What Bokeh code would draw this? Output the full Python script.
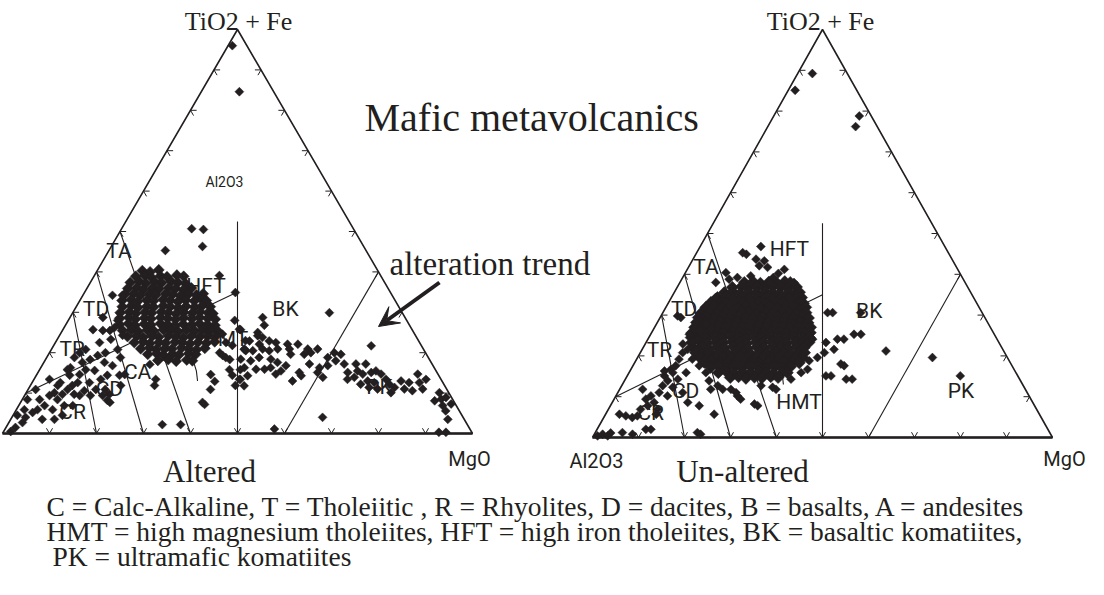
import math
from bokeh.plotting import figure
from bokeh.models import Range1d, Arrow, VeeHead
from bokeh.core.properties import value
from bokeh.embed import file_html
from bokeh.resources import INLINE

# ---------------- data: Jensen cation proportions (%) ----------------
# each sample is (TiO2+Fe, MgO); Al2O3 is the remainder to 100

ALT_SCATTER = [(96.0, 0.9), (84.6, 8.1), (50.7, 14.9), (50.5, 17.5), (46.3, 19.4), (45.3, 12.0),
               (39.1, 26.6), (34.9, 32.1), (28.0, 35.4), (25.7, 37.8), (23.0, 40.2), (20.8, 41.1),
               (7.2, 39.4), (2.2, 32.9), (2.2, 36.8), (14.6, 37.0), (10.9, 38.8), (12.9, 38.7),
               (15.8, 40.4), (14.4, 41.7), (18.3, 39.2), (11.9, 43.6), (13.4, 43.9), (20.0, 36.2),
               (19.3, 37.2), (18.8, 38.1), (7.7, 38.7), (11.9, 26.4), (13.4, 25.9), (17.1, 22.8),
               (8.2, 18.2), (9.7, 17.9), (24.6, 34.5), (22.5, 36.3), (21.8, 38.0), (20.5, 41.5),
               (15.8, 42.7), (13.4, 43.7)]

ALT_CA_TREND = [(0.5, 1.5), (4.5, 0.9), (2.7, 2.9), (8.4, 1.1), (4.0, 2.9), (5.2, 3.8), (5.9, 4.5),
                (8.4, 3.7), (3.5, 6.7), (6.9, 5.5), (9.4, 5.3), (13.4, 3.3), (5.9, 7.7), (10.1, 6.0),
                (11.9, 5.8), (8.4, 7.5), (12.6, 6.0), (9.7, 7.9), (6.9, 9.7), (10.9, 8.4), (14.4, 7.1),
                (16.3, 6.3), (11.9, 8.9), (9.7, 10.4), (12.6, 9.7), (14.6, 9.1), (17.6, 8.2),
                (10.6, 12.1), (15.8, 9.8), (12.6, 12.2), (18.3, 9.5), (15.6, 11.8), (10.9, 14.4),
                (19.3, 10.6), (22.5, 9.4), (13.4, 14.2), (17.6, 12.9), (20.0, 11.9), (14.4, 15.1),
                (7.7, 19.0), (23.3, 11.4), (16.8, 15.0), (26.2, 10.7), (20.8, 14.1), (14.4, 17.7),
                (11.9, 19.2), (24.3, 13.4), (34.2, 8.4), (34.2, 6.3), (28.0, 10.5), (25.7, 6.4),
                (25.5, 8.6), (25.5, 10.1), (20.8, 7.3), (20.0, 6.4), (18.8, 5.9), (15.8, 5.9),
                (10.9, 1.6), (5.9, 1.7), (1.5, 2.0), (3.5, 9.3), (4.5, 10.5), (6.9, 11.5), (9.4, 11.7),
                (9.4, 14.0), (9.4, 16.6), (10.9, 16.4), (18.8, 15.7), (14.6, 18.7), (28.7, 7.0)]

ALT_KOMATIITE_TREND = [(28.7, 41.0), (26.8, 42.3), (29.9, 54.6), (25.8, 37.5), (25.0, 41.8), (24.2, 42.2),
                       (23.8, 43.4), (22.9, 41.1), (22.9, 45.3), (22.5, 46.9), (22.1, 43.6), (22.1, 49.6),
                       (22.1, 51.8), (20.9, 41.0), (20.5, 43.0), (20.9, 44.9), (20.5, 46.5), (20.9, 48.1),
                       (20.9, 50.6), (20.9, 54.5), (20.9, 56.6), (20.0, 55.6), (18.4, 41.5), (18.0, 43.8),
                       (18.8, 45.2), (18.4, 47.9), (17.6, 49.7), (19.6, 51.5), (19.6, 54.4), (20.0, 60.6),
                       (19.6, 62.2), (18.8, 59.8), (18.0, 61.9), (16.3, 43.3), (15.9, 46.0), (15.9, 47.8),
                       (16.3, 48.9), (15.5, 51.5), (16.8, 51.9), (15.1, 55.6), (17.2, 56.7), (16.3, 59.3),
                       (16.8, 60.8), (14.3, 45.0), (14.7, 50.8), (13.0, 55.2), (14.3, 56.4), (15.1, 59.5),
                       (13.9, 61.2), (11.8, 45.5), (17.2, 64.1), (17.2, 66.6), (17.2, 68.7), (15.1, 65.9),
                       (15.5, 67.8), (13.4, 66.7), (13.9, 67.9), (14.7, 69.3), (13.0, 71.2), (15.1, 70.9),
                       (15.5, 71.7), (14.7, 73.2), (12.2, 70.1), (11.4, 72.3), (12.6, 72.8), (11.0, 74.3),
                       (13.4, 74.9), (12.2, 76.2), (10.1, 77.6), (11.4, 77.7), (13.0, 78.3), (11.0, 80.0),
                       (12.6, 80.2), (10.6, 81.9), (14.7, 81.0), (12.6, 82.4), (11.0, 83.9), (13.4, 83.4),
                       (10.1, 87.9), (8.1, 87.9), (8.5, 89.1), (8.9, 89.9), (6.9, 90.2), (7.3, 91.8),
                       (5.6, 91.5), (3.5, 93.0), (21.7, 67.6), (4.0, 66.1), (1.1, 57.3), (0.3, 92.7),
                       (0.3, 94.2)]

ALT_CORE = [(40.3, 9.6), (40.0, 11.4), (40.5, 13.0),
            (38.9, 8.9), (39.1, 10.7), (38.7, 12.3), (39.0, 14.1), (38.8, 15.6), (39.2, 17.5), (38.9, 19.1),
            (37.4, 8.5), (37.6, 10.3), (37.2, 11.9), (37.5, 13.7), (37.3, 15.2), (37.6, 17.1), (37.4, 18.6),
            (37.1, 20.4),
            (35.9, 8.7), (36.1, 10.5), (35.7, 12.1), (36.0, 13.9), (35.8, 15.4), (36.1, 17.3), (35.9, 18.9),
            (35.6, 20.7), (36.0, 22.2),
            (34.4, 8.8), (34.6, 10.6), (34.2, 12.2), (34.5, 14.0), (34.3, 15.5), (34.6, 17.4), (34.4, 19.0),
            (34.1, 20.8), (34.5, 22.3), (34.3, 24.1), (34.6, 25.4),
            (32.9, 9.0), (33.1, 10.8), (32.7, 12.4), (33.0, 14.2), (32.8, 15.7), (33.1, 17.6), (32.9, 19.2),
            (32.6, 21.0), (33.0, 22.5), (32.8, 24.4), (33.1, 25.9), (32.9, 26.9),
            (31.4, 9.8), (31.6, 11.6), (31.2, 13.2), (31.5, 15.0), (31.3, 16.5), (31.6, 18.4), (31.4, 20.0),
            (31.1, 21.8), (31.5, 23.3), (31.3, 25.2), (31.6, 26.7), (31.4, 28.5),
            (29.9, 10.1), (30.1, 11.9), (29.7, 13.5), (30.0, 15.3), (29.8, 16.8), (30.1, 18.7), (29.9, 20.3),
            (29.6, 22.1), (30.0, 23.6), (29.8, 25.5), (30.1, 27.0), (29.9, 28.8), (29.7, 29.9),
            (28.5, 10.7), (28.7, 12.5), (28.3, 14.1), (28.6, 15.9), (28.4, 17.4), (28.7, 19.3), (28.5, 20.9),
            (28.2, 22.7), (28.6, 24.2), (28.4, 26.1), (28.7, 27.6), (28.5, 29.4), (28.3, 31.1),
            (27.0, 11.4), (27.2, 13.2), (26.8, 14.8), (27.1, 16.6), (26.9, 18.1), (27.2, 20.0), (27.0, 21.6),
            (26.7, 23.4), (27.1, 24.9), (26.9, 26.8), (27.2, 28.3), (27.0, 30.1), (26.8, 31.8),
            (25.5, 12.8), (25.7, 14.6), (25.3, 16.2), (25.6, 18.0), (25.4, 19.5), (25.7, 21.4), (25.5, 23.0),
            (25.2, 24.8), (25.6, 26.3), (25.4, 28.2), (25.7, 29.7), (25.5, 31.5), (25.3, 33.2),
            (24.0, 14.6), (24.2, 16.4), (23.8, 18.0), (24.1, 19.8), (23.9, 21.3), (24.2, 23.2), (24.0, 24.8),
            (23.7, 26.6), (24.1, 28.1), (23.9, 30.0), (24.2, 31.5), (24.0, 33.3),
            (22.5, 16.8), (22.7, 18.6), (22.3, 20.2), (22.6, 22.0), (22.4, 23.5), (22.7, 25.4), (22.5, 27.0),
            (22.2, 28.8), (22.6, 30.3), (22.4, 32.2), (22.7, 33.8),
            (21.0, 18.9), (21.2, 20.7), (20.8, 22.3), (21.1, 24.1), (20.9, 25.6), (21.2, 27.5), (21.0, 29.1),
            (20.7, 30.9), (21.1, 32.5),
            (19.6, 21.1), (19.8, 22.9), (19.4, 24.5), (19.7, 26.3), (19.5, 27.8), (19.8, 29.7), (19.6, 31.3),
            (18.1, 24.0), (18.3, 26.1), (17.9, 28.0), (18.2, 30.1), (18.0, 31.4)]

UNALT_SCATTER = [(89.2, 3.2), (85.1, 1.5), (78.8, 18.6), (76.2, 19.1),
                 (46.8, 13.2), (44.9, 11.0), (43.7, 13.7), (43.3, 15.7), (42.1, 15.2), (41.7, 17.2),
                 (38.0, 7.8), (38.8, 10.3), (39.2, 11.9), (39.6, 14.6), (41.2, 21.1), (38.0, 24.8),
                 (33.5, 28.6), (33.9, 10.3), (28.2, 10.2), (30.6, 36.9), (30.6, 43.0), (25.3, 45.7),
                 (24.1, 42.6), (21.6, 41.7), (23.3, 39.1), (20.8, 40.0), (19.6, 39.1), (24.1, 35.8),
                 (18.8, 37.7), (18.0, 45.0), (17.6, 45.9), (15.1, 44.3), (14.3, 49.3), (16.7, 38.4),
                 (15.9, 37.4), (14.3, 36.0), (12.3, 33.0), (11.8, 34.0), (12.7, 30.3), (10.2, 26.4),
                 (9.4, 27.5), (7.8, 32.0), (11.8, 22.4), (5.7, 23.6), (11.8, 24.2),
                 (30.6, 35.8), (24.1, 41.2), (25.3, 44.2), (21.2, 53.2), (14.3, 48.0), (15.1, 43.2),
                 (19.6, 64.1), (15.1, 72.4), (1.2, 22.2), (8.2, 31.1), (29.8, 3.6), (34.3, 9.6),
                 (40.4, 8.8), (45.3, 10.0), (40.2, 20.3), (39.2, 19.7), (38.0, 19.5), (11.0, 25.7),
                 (12.7, 20.9), (11.8, 19.8), (7.8, 19.3)]

UNALT_CA_TREND = [(0.4, 0.9), (0.8, 1.8), (0.4, 3.1), (1.1, 3.4), (1.2, 5.9), (0.8, 8.3), (2.0, 10.6),
                  (2.0, 11.7), (5.7, 3.0), (5.3, 4.6), (4.9, 6.2), (5.3, 7.1), (6.9, 7.0), (11.8, 5.0),
                  (9.4, 6.9), (7.8, 8.1), (10.2, 7.6), (8.6, 9.1), (6.9, 10.7), (5.7, 11.0), (11.0, 9.0),
                  (12.7, 8.9), (15.1, 8.1), (13.9, 9.4), (15.9, 9.5), (17.6, 9.3), (19.2, 9.2), (20.8, 9.2),
                  (22.9, 8.2), (21.6, 9.9), (23.3, 10.1), (25.3, 8.4), (24.1, 10.8), (22.5, 12.7),
                  (20.8, 14.6), (19.2, 16.1), (19.2, 12.1), (17.6, 14.4), (15.9, 12.4), (14.3, 11.4),
                  (12.3, 11.3), (10.2, 11.2), (8.6, 16.4), (0.8, 23.1), (29.4, 4.5), (27.8, 10.7),
                  (26.5, 12.5), (15.9, 16.7), (13.9, 18.4), (16.7, 8.7), (16.3, 7.5), (11.0, 14.1)]

UNALT_CORE = [(38.0, 14.0), (38.2, 15.8), (37.8, 17.6), (38.1, 19.3), (37.9, 21.1), (38.2, 22.7), (38.0, 24.0),
              (36.8, 12.0), (37.0, 13.9), (36.6, 15.5), (36.9, 17.3), (36.7, 19.1), (37.0, 20.7), (36.8, 22.5),
              (36.6, 24.2), (36.9, 25.9),
              (35.5, 10.9), (35.7, 12.6), (35.3, 14.4), (35.6, 16.1), (35.4, 17.9), (35.7, 19.6), (35.5, 21.4),
              (35.2, 23.0), (35.6, 24.8), (35.4, 26.5), (35.6, 27.2),
              (34.3, 10.0), (34.5, 11.8), (34.1, 13.5), (34.4, 15.3), (34.2, 17.0), (34.5, 18.7), (34.3, 20.5),
              (34.0, 22.2), (34.4, 24.0), (34.2, 25.7), (34.5, 27.4), (34.3, 28.3),
              (33.1, 9.2), (33.3, 10.9), (32.9, 12.7), (33.2, 14.4), (33.0, 16.2), (33.3, 17.9), (33.1, 19.6),
              (32.8, 21.4), (33.2, 23.1), (33.0, 24.9), (33.3, 26.6), (33.1, 28.3), (32.9, 29.4),
              (31.9, 8.7), (32.1, 10.4), (31.7, 12.2), (32.0, 13.9), (31.8, 15.6), (32.1, 17.4), (31.9, 19.1),
              (31.6, 20.9), (32.0, 22.6), (31.8, 24.3), (32.1, 26.1), (31.9, 27.8), (31.7, 29.5), (31.9, 30.4),
              (30.6, 8.4), (30.8, 10.1), (30.4, 11.9), (30.7, 13.6), (30.5, 15.3), (30.8, 17.1), (30.6, 18.8),
              (30.3, 20.5), (30.7, 22.3), (30.5, 24.0), (30.8, 25.8), (30.6, 27.5), (30.4, 29.2), (30.6, 31.1),
              (29.4, 8.3), (29.6, 10.0), (29.2, 11.8), (29.5, 13.5), (29.3, 15.2), (29.6, 17.0), (29.4, 18.7),
              (29.1, 20.4), (29.5, 22.2), (29.3, 23.9), (29.6, 25.6), (29.4, 27.4), (29.2, 29.1), (29.5, 30.8),
              (29.3, 32.3),
              (28.2, 8.5), (28.4, 10.2), (28.0, 12.0), (28.3, 13.7), (28.1, 15.4), (28.4, 17.2), (28.2, 18.9),
              (27.9, 20.6), (28.3, 22.4), (28.1, 24.1), (28.4, 25.8), (28.2, 27.6), (28.0, 29.3), (28.3, 31.0),
              (28.1, 32.8),
              (27.0, 8.7), (27.2, 10.4), (26.8, 12.2), (27.1, 13.9), (26.9, 15.6), (27.2, 17.4), (27.0, 19.1),
              (26.7, 20.8), (27.1, 22.6), (26.9, 24.3), (27.2, 26.0), (27.0, 27.8), (26.8, 29.5), (27.1, 31.2),
              (26.9, 33.0), (27.0, 33.9),
              (25.7, 8.8), (25.9, 10.5), (25.5, 12.3), (25.8, 14.0), (25.6, 15.7), (25.9, 17.5), (25.7, 19.2),
              (25.4, 20.9), (25.8, 22.7), (25.6, 24.4), (25.9, 26.1), (25.7, 27.9), (25.5, 29.6), (25.8, 31.3),
              (25.6, 33.1), (25.7, 34.5),
              (24.5, 9.2), (24.7, 10.9), (24.3, 12.7), (24.6, 14.4), (24.4, 16.1), (24.7, 17.9), (24.5, 19.6),
              (24.2, 21.3), (24.6, 23.1), (24.4, 24.8), (24.7, 26.5), (24.5, 28.3), (24.3, 30.0), (24.6, 31.7),
              (24.4, 33.5), (24.5, 34.9),
              (23.3, 9.9), (23.5, 11.6), (23.1, 13.4), (23.4, 15.1), (23.2, 16.8), (23.5, 18.6), (23.3, 20.3),
              (23.0, 22.0), (23.4, 23.8), (23.2, 25.5), (23.5, 27.2), (23.3, 29.0), (23.1, 30.7), (23.4, 32.4),
              (23.2, 34.2), (23.3, 35.4),
              (22.1, 10.7), (22.3, 12.4), (21.9, 14.2), (22.2, 15.9), (22.0, 17.6), (22.3, 19.4), (22.1, 21.1),
              (21.8, 22.8), (22.2, 24.6), (22.0, 26.3), (22.3, 28.0), (22.1, 29.8), (21.9, 31.5), (22.2, 33.2),
              (22.0, 35.0),
              (20.8, 12.0), (21.0, 13.7), (20.6, 15.5), (20.9, 17.2), (20.7, 18.9), (21.0, 20.7), (20.8, 22.4),
              (20.5, 24.1), (20.9, 25.9), (20.7, 27.6), (21.0, 29.3), (20.8, 31.1), (20.6, 32.8), (20.9, 34.5),
              (20.8, 35.7),
              (19.6, 13.5), (19.8, 15.2), (19.4, 17.0), (19.7, 18.7), (19.5, 20.4), (19.8, 22.2), (19.6, 23.9),
              (19.3, 25.6), (19.7, 27.4), (19.5, 29.1), (19.8, 30.8), (19.6, 32.6), (19.4, 34.3), (19.6, 35.9),
              (18.4, 15.1), (18.6, 16.8), (18.2, 18.6), (18.5, 20.3), (18.3, 22.0), (18.6, 23.8), (18.4, 25.5),
              (18.1, 27.2), (18.5, 29.0), (18.3, 30.7), (18.6, 32.4), (18.4, 34.2), (18.3, 35.8),
              (17.2, 17.1), (17.4, 18.8), (17.0, 20.6), (17.3, 22.3), (17.1, 24.0), (17.4, 25.8), (17.2, 27.5),
              (16.9, 29.2), (17.3, 31.0), (17.1, 32.7), (17.4, 34.4),
              (15.9, 19.4), (16.1, 21.1), (15.7, 22.9), (16.0, 24.6), (15.8, 26.3), (16.1, 28.1), (15.9, 29.8),
              (15.6, 31.5), (16.0, 33.3), (15.9, 34.4),
              (14.7, 22.6), (14.9, 24.3), (14.5, 26.1), (14.8, 27.8), (14.6, 29.5), (14.9, 31.3), (14.7, 33.0)]

TICK_VALUES = [10, 20, 30, 40, 50, 60, 70, 80, 90]

# Jensen (1976) field boundaries, as (TiO2+Fe, MgO) vertices
BOUNDARIES = [
    [(50, 0), (0, 40)],            # TA / HFT - CA / CB
    [(40, 0), (0, 30)],            # TD / TA
    [(30, 0), (0, 20)],            # TR / TD
    [(10, 0), (35, 32.5)],         # tholeiitic / calc-alkaline
    [(0, 50), (52.5, 23.75)],      # HFT-HMT / BK
    [(0, 60), (40, 60)],           # BK / PK
    [(21.0, 29.5), (18.5, 31.2), (15.5, 33.5), (13.0, 35.0)],  # CB / HMT
]

ALT_FIELD_LABELS = [("TA", 45.2, 2.2), ("TD", 30.8, 4.5), ("TR", 20.9, 4.4), ("HFT", 36.6, 25.0),
                    ("BK", 30.8, 44.8), ("HMT", 23.3, 35.8), ("CA", 15.1, 21.2), ("CD", 10.9, 17.3),
                    ("CR", 5.2, 12.3), ("PK", 11.4, 74.5)]
UNALT_FIELD_LABELS = [("TA", 41.7, 3.8), ("TD", 31.4, 4.2), ("TR", 21.5, 3.8), ("HFT", 46.2, 19.7),
                      ("BK", 31.1, 44.6), ("HMT", 8.6, 40.6), ("CD", 11.5, 14.5), ("CR", 6.1, 9.6),
                      ("PK", 11.4, 74.4)]

# ---------------- layout ----------------
LEFT = dict(x0=10, y0=441, w=470, h=404)
RIGHT = dict(x0=600, y0=445, w=460, h=408)
INK = "#231f20"


def tern(fe, mg, tri):
    x = tri["x0"] + tri["w"] * (mg + fe / 2.0) / 100.0
    y = tri["y0"] - tri["h"] * fe / 100.0
    return x, y


def project(samples, tri):
    xs, ys = [], []
    for fe, mg in samples:
        x, y = tern(fe, mg, tri)
        xs.append(x)
        ys.append(y)
    return xs, ys


p = figure(width=1088, height=579, x_range=Range1d(8, 1096), y_range=Range1d(587, 8),
           output_backend="svg", toolbar_location=None, min_border=0,
           x_axis_location=None, y_axis_location=None)
p.grid.visible = False
p.outline_line_color = None
p.background_fill_color = "white"

SANS = value("Roboto")
SERIF = value("Liberation Serif")


def draw_triangle(tri, labels, sparse_groups, dense_group, dense_size):
    # field boundaries
    bx, by = [], []
    for line in BOUNDARIES:
        xs, ys = project(line, tri)
        bx.append(xs)
        by.append(ys)
    p.multi_line(bx, by, line_color=INK, line_width=1.1)

    # field labels
    lx, ly, lt = [], [], []
    for txt, fe, mg in labels:
        x, y = tern(fe, mg, tri)
        lx.append(x)
        ly.append(y)
        lt.append(txt)
    p.text(lx, ly, text=lt, text_font=SANS, text_font_size=value("21px"), text_color=INK,
           text_align="center", text_baseline="middle")

    # samples (the densely overlapping core drawn with slightly larger marks so it reads as a mass)
    xs, ys = project(dense_group, tri)
    p.scatter(xs, ys, marker="square", angle=math.pi / 4, size=dense_size,
              fill_color=INK, line_color=INK, line_width=0.5)
    for group in sparse_groups:
        xs, ys = project(group, tri)
        p.scatter(xs, ys, marker="square", angle=math.pi / 4, size=6.3,
                  fill_color=INK, line_color=INK, line_width=0.5)

    # outline
    ox, oy = project([(0, 0), (100, 0), (0, 100), (0, 0)], tri)
    p.line(ox, oy, line_color=INK, line_width=1.6)
    bx2, by2 = project([(0, 0), (0, 100)], tri)
    p.line(bx2, by2, line_color=INK, line_width=2.4)

    # ticks (small chevrons on each edge)
    tx, ty = [], []
    d = 1.3
    for v in TICK_VALUES:
        for a in [(v, d), (v - d, d)]:
            xs, ys = project([(v, 0), a], tri)
            tx.append(xs)
            ty.append(ys)
        for a in [(v, 100 - v - d), (v - d, 100 - v)]:
            xs, ys = project([(v, 100 - v), a], tri)
            tx.append(xs)
            ty.append(ys)
        for a in [(d, v - d), (d, v)]:
            xs, ys = project([(0, v), a], tri)
            tx.append(xs)
            ty.append(ys)
    p.multi_line(tx, ty, line_color=INK, line_width=1.0)


draw_triangle(LEFT, ALT_FIELD_LABELS, [ALT_SCATTER, ALT_CA_TREND, ALT_KOMATIITE_TREND], ALT_CORE, 7.8)
draw_triangle(RIGHT, UNALT_FIELD_LABELS, [UNALT_SCATTER, UNALT_CA_TREND], UNALT_CORE, 8.6)

# vertex labels
p.text([246, 828], [29, 29], text=["TiO2 + Fe", "TiO2 + Fe"], text_font=SERIF,
       text_font_size=value("26px"), text_color=INK, text_align="center", text_baseline="alphabetic")
p.text([477, 1072, 604], [466, 466, 468], text=["MgO", "MgO", "Al2O3"], text_font=SANS,
       text_font_size=value("20px"), text_color=INK, text_align="center", text_baseline="middle")
p.text([232], [189], text=["Al2O3"], text_font=SANS, text_font_size=value("14px"), text_color=INK,
       text_align="center", text_baseline="middle")

# titles
p.text([372], [125], text=["Mafic metavolcanics"], text_font=SERIF, text_font_size=value("40px"),
       text_color=INK, text_align="left", text_baseline="alphabetic")
p.text([217, 750], [479, 479], text=["Altered", "Un-altered"], text_font=SERIF,
       text_font_size=value("31px"), text_color=INK, text_align="center", text_baseline="alphabetic")

# alteration trend annotation
p.text([397], [271], text=["alteration trend"], text_font=SERIF, text_font_size=value("33px"),
       text_color=INK, text_align="left", text_baseline="alphabetic")
p.add_layout(Arrow(x_start=447, y_start=290, x_end=386, y_end=334, line_width=4, line_color=INK,
                   end=VeeHead(size=20, fill_color=INK, line_color=INK, line_width=1)))

# legend text
p.text([54, 54, 60], [514, 539, 564],
       text=["C = Calc-Alkaline, T = Tholeiitic , R =  Rhyolites, D = dacites, B = basalts, A = andesites",
             "HMT = high  magnesium tholeiites, HFT = high iron tholeiites, BK = basaltic komatiites,",
             " PK = ultramafic komatiites"],
       text_font=SERIF, text_font_size=value("27.5px"), text_color=INK, text_align="left",
       text_baseline="alphabetic")

open("out.html", "w").write(file_html(p, INLINE))
